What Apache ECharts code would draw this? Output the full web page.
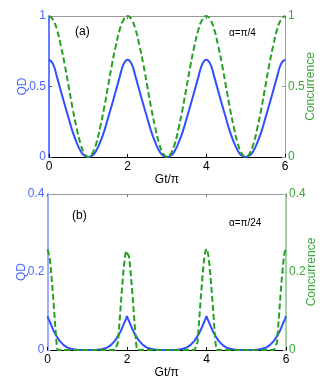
<!DOCTYPE html>
<html>
<head>
<meta charset="utf-8">
<script src="https://cdn.jsdelivr.net/npm/echarts@6/dist/echarts.min.js"></script>
<style>
  html, body { margin: 0; padding: 0; background: #fff; }
  #chart { width: 329px; height: 388px; }
</style>
</head>
<body>
<div id="chart"></div>
<script>
// panel (a): alpha = pi/4, sampled every 0.1 in Gt/pi
var xA = [0,0.1,0.2,0.3,0.4,0.5,0.6,0.7,0.8,0.9,1,1.1,1.2,1.3,1.4,1.5,1.6,1.7,1.8,1.9,2,
    2.1,2.2,2.3,2.4,2.5,2.6,2.7,2.8,2.9,3,3.1,3.2,3.3,3.4,3.5,3.6,3.7,3.8,3.9,4,
    4.1,4.2,4.3,4.4,4.5,4.6,4.7,4.8,4.9,5,5.1,5.2,5.3,5.4,5.5,5.6,5.7,5.8,5.9,6];
var qdA = [0.69,0.66,0.57,0.47,0.37,0.275,0.18,0.105,0.045,0.01,0,
    0.01,0.045,0.105,0.18,0.275,0.37,0.47,0.57,0.66,0.69,
    0.66,0.57,0.47,0.37,0.275,0.18,0.105,0.045,0.01,0,
    0.01,0.045,0.105,0.18,0.275,0.37,0.47,0.57,0.66,0.69,
    0.66,0.57,0.47,0.37,0.275,0.18,0.105,0.045,0.01,0,
    0.01,0.045,0.105,0.18,0.275,0.37,0.47,0.57,0.66,0.69];
var concA = [1,0.975,0.905,0.79,0.655,0.5,0.345,0.21,0.095,0.025,0,
    0.025,0.095,0.21,0.345,0.5,0.655,0.79,0.905,0.975,1,
    0.975,0.905,0.79,0.655,0.5,0.345,0.21,0.095,0.025,0,
    0.025,0.095,0.21,0.345,0.5,0.655,0.79,0.905,0.975,1,
    0.975,0.905,0.79,0.655,0.5,0.345,0.21,0.095,0.025,0,
    0.025,0.095,0.21,0.345,0.5,0.655,0.79,0.905,0.975,1];

// panel (b): alpha = pi/24, finer sampling near the peaks
var xB = [0,0.025,0.05,0.075,0.1,0.125,0.15,0.175,0.2,0.225,0.25,0.3,0.4,0.5,0.6,0.7,0.8,0.9,1,
    1.1,1.2,1.3,1.4,1.5,1.6,1.7,1.75,1.775,1.8,1.825,1.85,1.875,1.9,1.925,1.95,1.975,2,
    2.025,2.05,2.075,2.1,2.125,2.15,2.175,2.2,2.225,2.25,2.3,2.4,2.5,2.6,2.7,2.8,2.9,3,
    3.1,3.2,3.3,3.4,3.5,3.6,3.7,3.75,3.775,3.8,3.825,3.85,3.875,3.9,3.925,3.95,3.975,4,
    4.025,4.05,4.075,4.1,4.125,4.15,4.175,4.2,4.225,4.25,4.3,4.4,4.5,4.6,4.7,4.8,4.9,5,
    5.1,5.2,5.3,5.4,5.5,5.6,5.7,5.75,5.775,5.8,5.825,5.85,5.875,5.9,5.925,5.95,5.975,6];
var qdB = [0.087,0.08,0.074,0.068,0.062,0.056,0.05,0.045,0.04,0.036,0.032,0.024,0.013,0.006,0.003,0.001,0,0,0,
    0,0,0.001,0.003,0.006,0.013,0.024,0.032,0.036,0.04,0.045,0.05,0.056,0.062,0.068,0.074,0.08,0.087,
    0.08,0.074,0.068,0.062,0.056,0.05,0.045,0.04,0.036,0.032,0.024,0.013,0.006,0.003,0.001,0,0,0,
    0,0,0.001,0.003,0.006,0.013,0.024,0.032,0.036,0.04,0.045,0.05,0.056,0.062,0.068,0.074,0.08,0.087,
    0.08,0.074,0.068,0.062,0.056,0.05,0.045,0.04,0.036,0.032,0.024,0.013,0.006,0.003,0.001,0,0,0,
    0,0,0.001,0.003,0.006,0.013,0.024,0.032,0.036,0.04,0.045,0.05,0.056,0.062,0.068,0.074,0.08,0.087];
var concB = [0.258,0.254,0.24,0.218,0.19,0.158,0.125,0.09,0.055,0.02,0,0,0,0,0,0,0,0,0,
    0,0,0,0,0,0,0,0,0.02,0.055,0.09,0.125,0.158,0.19,0.218,0.24,0.254,0.258,
    0.254,0.24,0.218,0.19,0.158,0.125,0.09,0.055,0.02,0,0,0,0,0,0,0,0,0,
    0,0,0,0,0,0,0,0,0.02,0.055,0.09,0.125,0.158,0.19,0.218,0.24,0.254,0.26,
    0.254,0.24,0.218,0.19,0.158,0.125,0.09,0.055,0.02,0,0,0,0,0,0,0,0,0,
    0,0,0,0,0,0,0,0,0.02,0.055,0.09,0.125,0.158,0.19,0.218,0.24,0.254,0.258];

var blue = '#2f4fff';
var green = '#25a025';
var blueText = '#4a68ff';
var greenText = '#3aa83a';
var font = 'Liberation Sans, Arial, sans-serif';

function pairs(xs, ys) {
    return xs.map(function (x, i) { return [x, ys[i]]; });
}

function bottomAxis(grid) {
    return {
        type: 'value', gridIndex: grid, position: 'bottom', min: 0, max: 6, interval: 2,
        name: 'Gt/π', nameLocation: 'middle', nameGap: 16,
        nameTextStyle: { color: '#000', fontSize: 12, fontFamily: font },
        axisLine: { onZero: false, lineStyle: { color: '#000', width: 1 } },
        axisTick: { inside: true, length: 3, lineStyle: { color: '#000' } },
        axisLabel: { color: '#000', fontSize: 12, fontFamily: font, margin: 4 },
        splitLine: { show: false }
    };
}
function topAxis(grid) {
    return {
        type: 'value', gridIndex: grid, position: 'top', min: 0, max: 6, interval: 2,
        axisLine: { onZero: false, lineStyle: { color: '#999', width: 1 } },
        axisTick: { inside: true, length: 3, lineStyle: { color: '#777' } },
        axisLabel: { show: false }, splitLine: { show: false }
    };
}
function leftAxis(grid, max, step, lineColor, lineWidth) {
    return {
        type: 'value', gridIndex: grid, position: 'left', min: 0, max: max, interval: step,
        name: 'QD', nameLocation: 'middle', nameGap: 20, nameMoveOverlap: false,
        nameTextStyle: { color: blueText, fontSize: 12, fontFamily: font },
        axisLine: { show: true, onZero: false, lineStyle: { color: lineColor, width: lineWidth } },
        axisTick: { inside: true, length: 3, lineStyle: { color: lineColor } },
        axisLabel: { color: blueText, fontSize: 12, fontFamily: font, margin: 3 },
        splitLine: { show: false }
    };
}
function rightAxis(grid, max, step, lineColor, lineWidth) {
    return {
        type: 'value', gridIndex: grid, position: 'right', min: 0, max: max, interval: step,
        name: 'Concurrence', nameLocation: 'middle', nameGap: 20, nameRotate: 90, nameMoveOverlap: false,
        nameTextStyle: { color: greenText, fontSize: 12, fontFamily: font },
        axisLine: { show: true, onZero: false, lineStyle: { color: lineColor, width: lineWidth } },
        axisTick: { inside: true, length: 3, lineStyle: { color: lineColor } },
        axisLabel: { color: greenText, fontSize: 12, fontFamily: font, margin: 3 },
        splitLine: { show: false }
    };
}
function line(xi, yi, data, color, dashed, smooth) {
    return {
        type: 'line', xAxisIndex: xi, yAxisIndex: yi, data: data,
        symbol: 'none', smooth: smooth, animation: false,
        lineStyle: { color: color, width: 2, type: dashed ? [6, 3] : 'solid' }
    };
}

var chart = echarts.init(document.getElementById('chart'));
var option = {
    backgroundColor: '#fff',
    animation: false,
    grid: [
        { left: 49, right: 44, top: 16, height: 141 },
        { left: 47.5, right: 43, top: 194, height: 156 }
    ],
    xAxis: [bottomAxis(0), topAxis(0), bottomAxis(1), topAxis(1)],
    yAxis: [
        leftAxis(0, 1, 0.5, '#2f4fff', 1.5),
        rightAxis(0, 1, 0.5, '#7fb0a0', 1),
        leftAxis(1, 0.4, 0.2, '#a0adff', 2),
        rightAxis(1, 0.4, 0.2, '#a5d2a5', 2)
    ],
    series: [
        line(0, 0, pairs(xA, qdA), blue, false, true),
        line(0, 1, pairs(xA, concA), green, true, true),
        line(2, 2, pairs(xB, qdB), blue, false, false),
        line(2, 3, pairs(xB, concB), green, true, false)
    ],
    graphic: [
        { type: 'text', left: 75, top: 26, style: { text: '(a)', fontSize: 12, fontFamily: font, fill: '#000' } },
        { type: 'text', left: 229, top: 28, style: { text: 'α=π/4', fontSize: 10, fontFamily: font, fill: '#000' } },
        { type: 'text', left: 72, top: 210, style: { text: '(b)', fontSize: 12, fontFamily: font, fill: '#000' } },
        { type: 'text', left: 229, top: 218, style: { text: 'α=π/24', fontSize: 10, fontFamily: font, fill: '#000' } }
    ]
};
chart.setOption(option);
</script>
</body>
</html>
